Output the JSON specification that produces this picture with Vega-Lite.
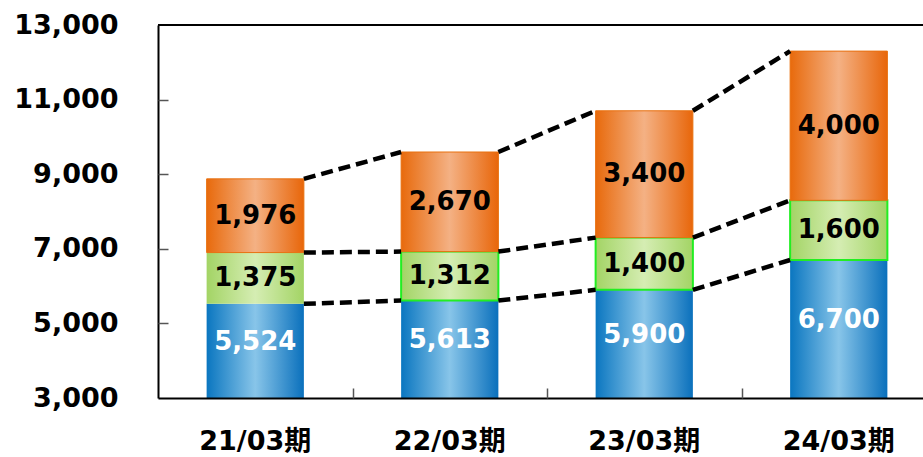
{
  "$schema": "https://vega.github.io/schema/vega-lite/v6.json",
  "width": 765,
  "height": 373,
  "autosize": {"type": "none"},
  "padding": {"left": 158, "top": 25, "right": 0, "bottom": 59},
  "background": "white",
  "config": {"view": {"stroke": null}, "font": "DejaVu Sans"},
  "data": {"values": [
    {"period": "21/03期", "series": "A", "value": 5524},
    {"period": "21/03期", "series": "B", "value": 1375},
    {"period": "21/03期", "series": "C", "value": 1976},
    {"period": "22/03期", "series": "A", "value": 5613},
    {"period": "22/03期", "series": "B", "value": 1312},
    {"period": "22/03期", "series": "C", "value": 2670},
    {"period": "23/03期", "series": "A", "value": 5900},
    {"period": "23/03期", "series": "B", "value": 1400},
    {"period": "23/03期", "series": "C", "value": 3400},
    {"period": "24/03期", "series": "A", "value": 6700},
    {"period": "24/03期", "series": "B", "value": 1600},
    {"period": "24/03期", "series": "C", "value": 4000}
  ]},
  "transform": [
    {"stack": "value", "groupby": ["period"], "sort": [{"field": "series", "order": "ascending"}], "as": ["y0", "y1"]},
    {"calculate": "(max(datum.y0, 3000) + datum.y1) / 2", "as": "mid"}
  ],
  "resolve": {"axis": {"x": "independent", "y": "independent"}},
  "layer": [
    {
      "transform": [{"filter": "datum.series === 'A'"}],
      "mark": {"type": "bar", "clip": true,
        "fill": {"gradient": "linear", "x1": 0, "y1": 0, "x2": 1, "y2": 0,
          "stops": [{"offset": 0, "color": "#0a76c0"}, {"offset": 0.5, "color": "#88c5e9"}, {"offset": 1, "color": "#0a70bc"}]}},
      "encoding": {
        "x": {"field": "period", "type": "nominal", "sort": null,
          "scale": {"range": [0, 778], "paddingInner": 0.5, "paddingOuter": 0.25},
          "axis": {"title": null, "orient": "bottom", "labelAngle": 0, "domainColor": "black", "domainWidth": 2,
            "ticks": false,
            "labelFont": "DejaVu Sans, Noto Sans CJK JP", "labelFontWeight": "bold", "labelFontSize": 27,
            "labelColor": "black", "labelPadding": 30, "labelBaseline": "top", "zindex": 2}},
        "y": {"field": "y0", "type": "quantitative",
          "scale": {"domain": [3000, 13000], "nice": false, "zero": false},
          "axis": {"title": null, "values": [3000, 5000, 7000, 9000, 11000, 13000], "format": ",.0f",
            "grid": false, "domainColor": "black", "domainWidth": 2, "ticks": false,
            "labelFont": "DejaVu Sans", "labelFontWeight": "bold", "labelFontSize": 27,
            "labelColor": "black", "labelPadding": 40, "zindex": 2}},
        "y2": {"field": "y1"}
      }
    },
    {
      "transform": [{"filter": "datum.series === 'B'"}],
      "mark": {"type": "bar", "stroke": "#22ee22", "strokeWidth": 2,
        "fill": {"gradient": "linear", "x1": 0, "y1": 0, "x2": 1, "y2": 0,
          "stops": [{"offset": 0, "color": "#a3d465"}, {"offset": 0.5, "color": "#d5edb3"}, {"offset": 1, "color": "#a3d465"}]}},
      "encoding": {
        "x": {"field": "period", "type": "nominal", "sort": null,
          "axis": {"title": null, "orient": "top", "offset": -373, "labels": false, "domain": false, "grid": false,
            "ticks": true, "tickBand": "center", "tickOffset": 97.25, "tickSize": 10, "tickColor": "#555", "tickWidth": 1.5, "tickOpacity": 1, "zindex": 3}},
        "y": {"field": "y0", "type": "quantitative",
          "axis": {"title": null, "orient": "right", "offset": -765, "labels": false, "domain": false, "grid": false,
            "values": [5000, 7000, 9000, 11000],
            "ticks": true, "tickSize": 10, "tickColor": "#555", "tickWidth": 1.5, "tickOpacity": 1, "zindex": 3}},
        "y2": {"field": "y1"},
        "strokeOpacity": {"condition": {"test": "datum.period === '21/03期'", "value": 0}, "value": 1}
      }
    },
    {
      "transform": [{"filter": "datum.series === 'C'"}],
      "mark": {"type": "bar", "stroke": "#e8700f", "strokeWidth": 1,
        "fill": {"gradient": "linear", "x1": 0, "y1": 0, "x2": 1, "y2": 0,
          "stops": [{"offset": 0, "color": "#e86a0c"}, {"offset": 0.5, "color": "#f4b184"}, {"offset": 1, "color": "#e8660a"}]}},
      "encoding": {
        "x": {"field": "period", "type": "nominal", "sort": null, "axis": null},
        "y": {"field": "y0", "type": "quantitative", "axis": null},
        "y2": {"field": "y1"}
      }
    },
    {
      "transform": [
        {"window": [{"op": "lead", "field": "y1", "as": "ny1"}, {"op": "lead", "field": "period", "as": "nperiod"}],
          "groupby": ["series"], "sort": [{"field": "period", "order": "ascending"}]},
        {"filter": "datum.nperiod != null"}
      ],
      "mark": {"type": "rule", "color": "black", "strokeWidth": 4.5, "strokeDash": [12, 6]},
      "encoding": {
        "x": {"field": "period", "type": "nominal", "sort": null, "bandPosition": 1, "axis": null},
        "x2": {"field": "nperiod", "bandPosition": 0},
        "y": {"field": "y1", "type": "quantitative", "axis": null},
        "y2": {"field": "ny1"}
      }
    },
    {
      "transform": [{"filter": "datum.series === 'A'"}],
      "mark": {"type": "text", "font": "DejaVu Sans", "fontWeight": "bold", "fontSize": 26, "color": "white", "dy": -9, "baseline": "middle"},
      "encoding": {
        "x": {"field": "period", "type": "nominal", "sort": null, "axis": null},
        "y": {"field": "mid", "type": "quantitative", "axis": null},
        "text": {"field": "value", "type": "quantitative", "format": ","}
      }
    },
    {
      "transform": [{"filter": "datum.series !== 'A'"}],
      "mark": {"type": "text", "font": "DejaVu Sans", "fontWeight": "bold", "fontSize": 26, "color": "black", "baseline": "middle"},
      "encoding": {
        "x": {"field": "period", "type": "nominal", "sort": null, "axis": null},
        "y": {"field": "mid", "type": "quantitative", "axis": null},
        "text": {"field": "value", "type": "quantitative", "format": ","}
      }
    },
    {
      "mark": {"type": "rule", "color": "black", "strokeWidth": 2},
      "encoding": {"y": {"datum": 13000, "type": "quantitative", "axis": null}}
    }
  ]
}
